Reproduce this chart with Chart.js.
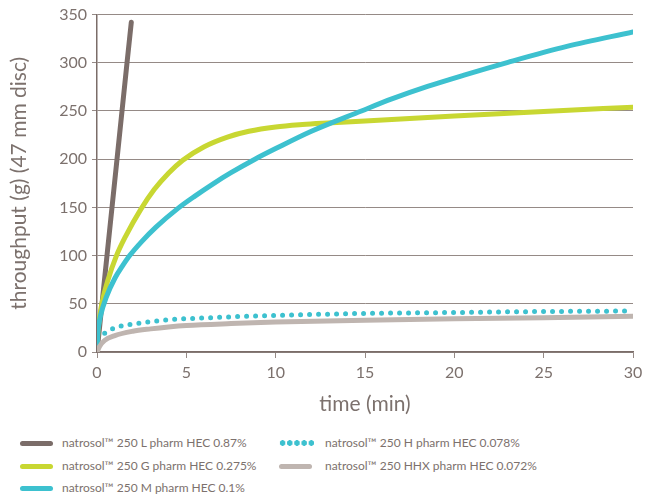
<!DOCTYPE html>
<html>
<head>
<meta charset="utf-8">
<script src="https://cdn.jsdelivr.net/npm/chart.js@4/dist/chart.umd.min.js"></script>
<style>
  html, body { margin: 0; padding: 0; background: #fff; }
  #wrap { position: relative; width: 660px; height: 495px; }
  #box { position: absolute; left: 0; top: 0; width: 660px; height: 420px; }
  .item { position: absolute; font: 12px "Lato", sans-serif; color: #7c716d; white-space: nowrap; line-height: 14px; }
  .swatch { position: absolute; top: 5px; width: 33px; height: 5px; border-radius: 3px; }
  .dots { position: absolute; top: 4px; width: 36px; height: 6px;
          background: radial-gradient(circle, #3dc1cf 2.6px, transparent 3px) 0 0 / 7.2px 6px repeat-x; }
  .item span { position: absolute; }
</style>
</head>
<body>
<div id="wrap">
  <div id="box"><canvas id="chart"></canvas></div>
  <div id="legend"></div>
</div>
<script>
// -------- DATA --------
const seriesNames = [
  "natrosol™ 250 L pharm HEC 0.87%",
  "natrosol™ 250 G pharm HEC 0.275%",
  "natrosol™ 250 M pharm HEC 0.1%",
  "natrosol™ 250 H pharm HEC 0.078%",
  "natrosol™ 250 HHX pharm HEC 0.072%"
];
const colors = ["#7b6d69", "#c8d732", "#3dc1cf", "#3dc1cf", "#bfb5b0"];

const lTime = [0, 0.56, 1.12, 1.68, 1.92];
const lThroughput = [0, 100, 200, 300, 342];

const gTime = [0, 0.05, 0.1, 0.2, 0.34, 0.6, 1.08, 1.6, 2.45, 3.2, 4.0, 4.8, 6.0, 7.3, 8.5, 10, 11.5, 12.9, 15, 20, 25, 30];
const gThroughput = [0, 21.5, 30, 43, 56, 74, 99.5, 120, 148, 168.5, 185.5, 199, 213, 223, 229, 233.5, 236, 237.6, 239.7, 244.8, 249.5, 254];

const mTime = [0, 0.05, 0.1, 0.2, 0.52, 1.0, 1.4, 1.83, 2.5, 3.3, 4.53, 5.5, 6.5, 7.5, 8.84, 10, 12, 14.8, 16.5, 18.5, 20.5, 23, 26.3, 30];
const mThroughput = [0, 20.5, 28, 38, 57, 76.5, 88.5, 100, 114.5, 129.5, 149, 162, 174.5, 186, 200, 211, 229, 250, 262.5, 275.5, 287, 300.5, 317, 332];

const hTime = [0.43, 0.7, 1, 1.5, 2, 3, 4, 5, 7.5, 10, 15, 20, 25, 30];
const hThroughput = [19.5, 22.5, 25, 27.5, 29, 31.5, 33.5, 34.5, 36.5, 38, 40, 41, 42, 42.5];

const hhxTime = [0, 0.15, 0.43, 1, 2, 3, 4, 5, 7.5, 10, 15, 20, 25, 30];
const hhxThroughput = [0, 6, 12, 17, 21.5, 24, 26, 27.5, 29.5, 31, 33, 34.5, 35.5, 37];

const xTicks = [0, 5, 10, 15, 20, 25, 30];
const yTicks = [0, 50, 100, 150, 200, 250, 300, 350];

// -------- HELPERS --------
const textColor = "#7c716d";
const gridColor = "#958a86";

function pts(xs, ys) { return xs.map((x, i) => ({ x: x, y: ys[i] })); }

function makeSet(i, xs, ys, dotted) {
  return {
    label: seriesNames[i],
    data: pts(xs, ys),
    borderColor: colors[i],
    backgroundColor: colors[i],
    borderWidth: 5,
    pointRadius: 0,
    cubicInterpolationMode: "monotone",
    borderCapStyle: "round",
    borderDash: dotted ? [0, 9] : [],
    fill: false
  };
}

// draw order: lighter ones at the back
const datasets = [
  makeSet(4, hhxTime, hhxThroughput, false),
  makeSet(3, hTime, hThroughput, true),
  makeSet(2, mTime, mThroughput, false),
  makeSet(1, gTime, gThroughput, false),
  makeSet(0, lTime, lThroughput, false)
];

// -------- CHART --------
new Chart(document.getElementById("chart"), {
  type: "line",
  data: { datasets: datasets },
  options: {
    responsive: true,
    maintainAspectRatio: false,
    animation: false,
    layout: { padding: { top: 14, right: 27, left: 0, bottom: 0 } },
    plugins: { legend: { display: false }, tooltip: { enabled: false } },
    scales: {
      x: {
        type: "linear",
        min: 0, max: 30,
        afterBuildTicks: s => { s.ticks = xTicks.map(v => ({ value: v })); },
        afterFit: s => { s.height = 68; },
        grid: { drawOnChartArea: false, drawTicks: true, tickLength: 6, color: gridColor },
        border: { color: "#7b6d69", width: 1.5 },
        ticks: { color: textColor, font: { family: "Lato", size: 16 }, padding: 5 },
        title: { display: true, text: "time (min)", color: textColor,
                 font: { family: "Lato", size: 21 }, padding: { top: 0, bottom: 3 } }
      },
      y: {
        min: 0, max: 350,
        afterBuildTicks: s => { s.ticks = yTicks.map(v => ({ value: v })); },
        afterFit: s => { s.width = 97; },
        grid: { color: gridColor, lineWidth: 1, tickLength: 5 },
        border: { color: "#7b6d69", width: 1.5 },
        ticks: { color: textColor, font: { family: "Lato", size: 16 }, padding: 5 },
        title: { display: true, text: "throughput (g) (47 mm disc)", color: textColor,
                 font: { family: "Lato", size: 21 }, padding: { top: 7, bottom: 0 } }
      }
    }
  }
});

// -------- LEGEND --------
const legendPos = [
  { i: 0, x: 20, y: 436 },
  { i: 1, x: 20, y: 459 },
  { i: 2, x: 20, y: 481 },
  { i: 3, x: 279, y: 436 },
  { i: 4, x: 279, y: 459 }
];
const legendDiv = document.getElementById("legend");
legendPos.forEach(p => {
  const item = document.createElement("div");
  item.className = "item";
  item.style.left = p.x + "px";
  item.style.top = p.y + "px";
  const mark = document.createElement("div");
  if (p.i === 3) {
    mark.className = "dots";
    mark.style.left = "0px";
  } else {
    mark.className = "swatch";
    mark.style.left = "0px";
    mark.style.background = colors[p.i];
  }
  const label = document.createElement("span");
  label.textContent = seriesNames[p.i];
  label.style.left = (p.i >= 3 ? 46 : 42) + "px";
  label.style.top = "0px";
  item.appendChild(mark);
  item.appendChild(label);
  legendDiv.appendChild(item);
});
</script>
</body>
</html>
